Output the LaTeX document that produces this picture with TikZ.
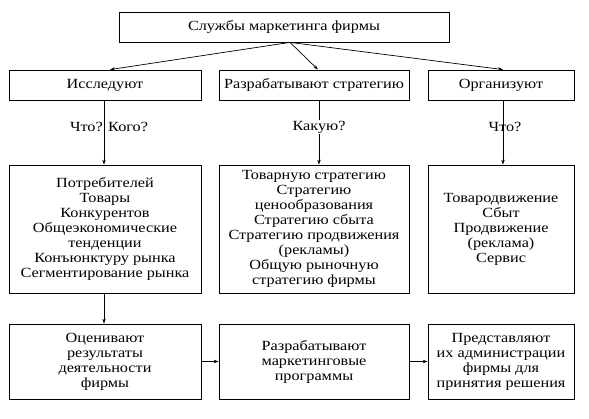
\documentclass[tikz,border=0pt]{standalone}
\usepackage{fontspec}
\setmainfont{Liberation Serif}[FakeStretch=1.16]
\usetikzlibrary{arrows.meta}
\tikzstyle{block} = [rectangle, draw, fill=white, line width=0.8pt,
                 align=center, inner sep=2pt]
\tikzstyle{branch} = [line width=0.7pt, draw, -{Stealth[length=5pt, width=3.5pt]}]
\tikzset{
	question/.style={inner sep=1pt},
}

\begin{document}
\begin{tikzpicture}[x=1pt, y=1pt, font=\fontsize{14}{15}\selectfont]
\useasboundingbox (0,0) rectangle (589,419);

\node [block, minimum width=330pt, minimum height=30pt] at (284,392) (sl) {Службы маркетинга фирмы};

% what they do
\node [block, minimum width=192pt, minimum height=30pt] at (105,334) (issl) {Исследуют};
\node [block, minimum width=190pt, minimum height=30pt] at (314,334) (strat) {Разрабатывают стратегию};
\node [block, minimum width=146pt, minimum height=30pt] at (501,334) (org) {Организуют};

% lists
\node [block, minimum width=192pt, minimum height=128pt] at (105,190) (potr) {Потребителей\\Товары\\Конкурентов\\Общеэкономические\\тенденции\\Конъюнктуру рынка\\Сегментирование рынка};
\node [block, minimum width=190pt, minimum height=128pt] at (314,190) (tovs) {Товарную стратегию\\Стратегию\\ценообразования\\Стратегию сбыта\\Стратегию продвижения\\(рекламы)\\Общую рыночную\\стратегию фирмы};
\node [block, minimum width=146pt, minimum height=128pt] at (501,190) (tovd) {Товародвижение\\Сбыт\\Продвижение\\(реклама)\\Сервис};

% results
\node [block, minimum width=192pt, minimum height=75pt] at (105,57.5) (ocen) {Оценивают\\результаты\\деятельности\\фирмы};
\node [block, minimum width=190pt, minimum height=75pt] at (314,57.5) (prog) {Разрабатывают\\маркетинговые\\программы};
\node [block, minimum width=146pt, minimum height=75pt] at (501,57.5) (pred) {Представляют\\их администрации\\фирмы для\\принятия решения};

\path [branch] ([xshift=6pt]sl.south) -- ([xshift=5pt]issl.north);
\path [branch] ([xshift=6pt]sl.south) -- ([xshift=4pt]strat.north);
\path [branch] ([xshift=6pt]sl.south) -- ([xshift=2pt]org.north);

\path [branch] ([xshift=-1pt]issl.south) -- ([xshift=-1pt]potr.north);
\path [branch] ([xshift=5pt]strat.south) -- ([xshift=5pt]tovs.north);
\path [branch] ([xshift=2pt]org.south) -- ([xshift=2pt]tovd.north);
\path [branch] ([xshift=-1pt]potr.south) -- ([xshift=-1pt]ocen.north);

\path [branch] (ocen.east) -- (prog.west);
\path [branch] (prog.east) -- (pred.west);

\node [question] at (109,292) (q1) {Что? Кого?};
\node [question, fill=white] at (319,292) (q2) {Какую?};
\node [question] at (505,292) (q3) {Что?};

\end{tikzpicture}
\end{document}
